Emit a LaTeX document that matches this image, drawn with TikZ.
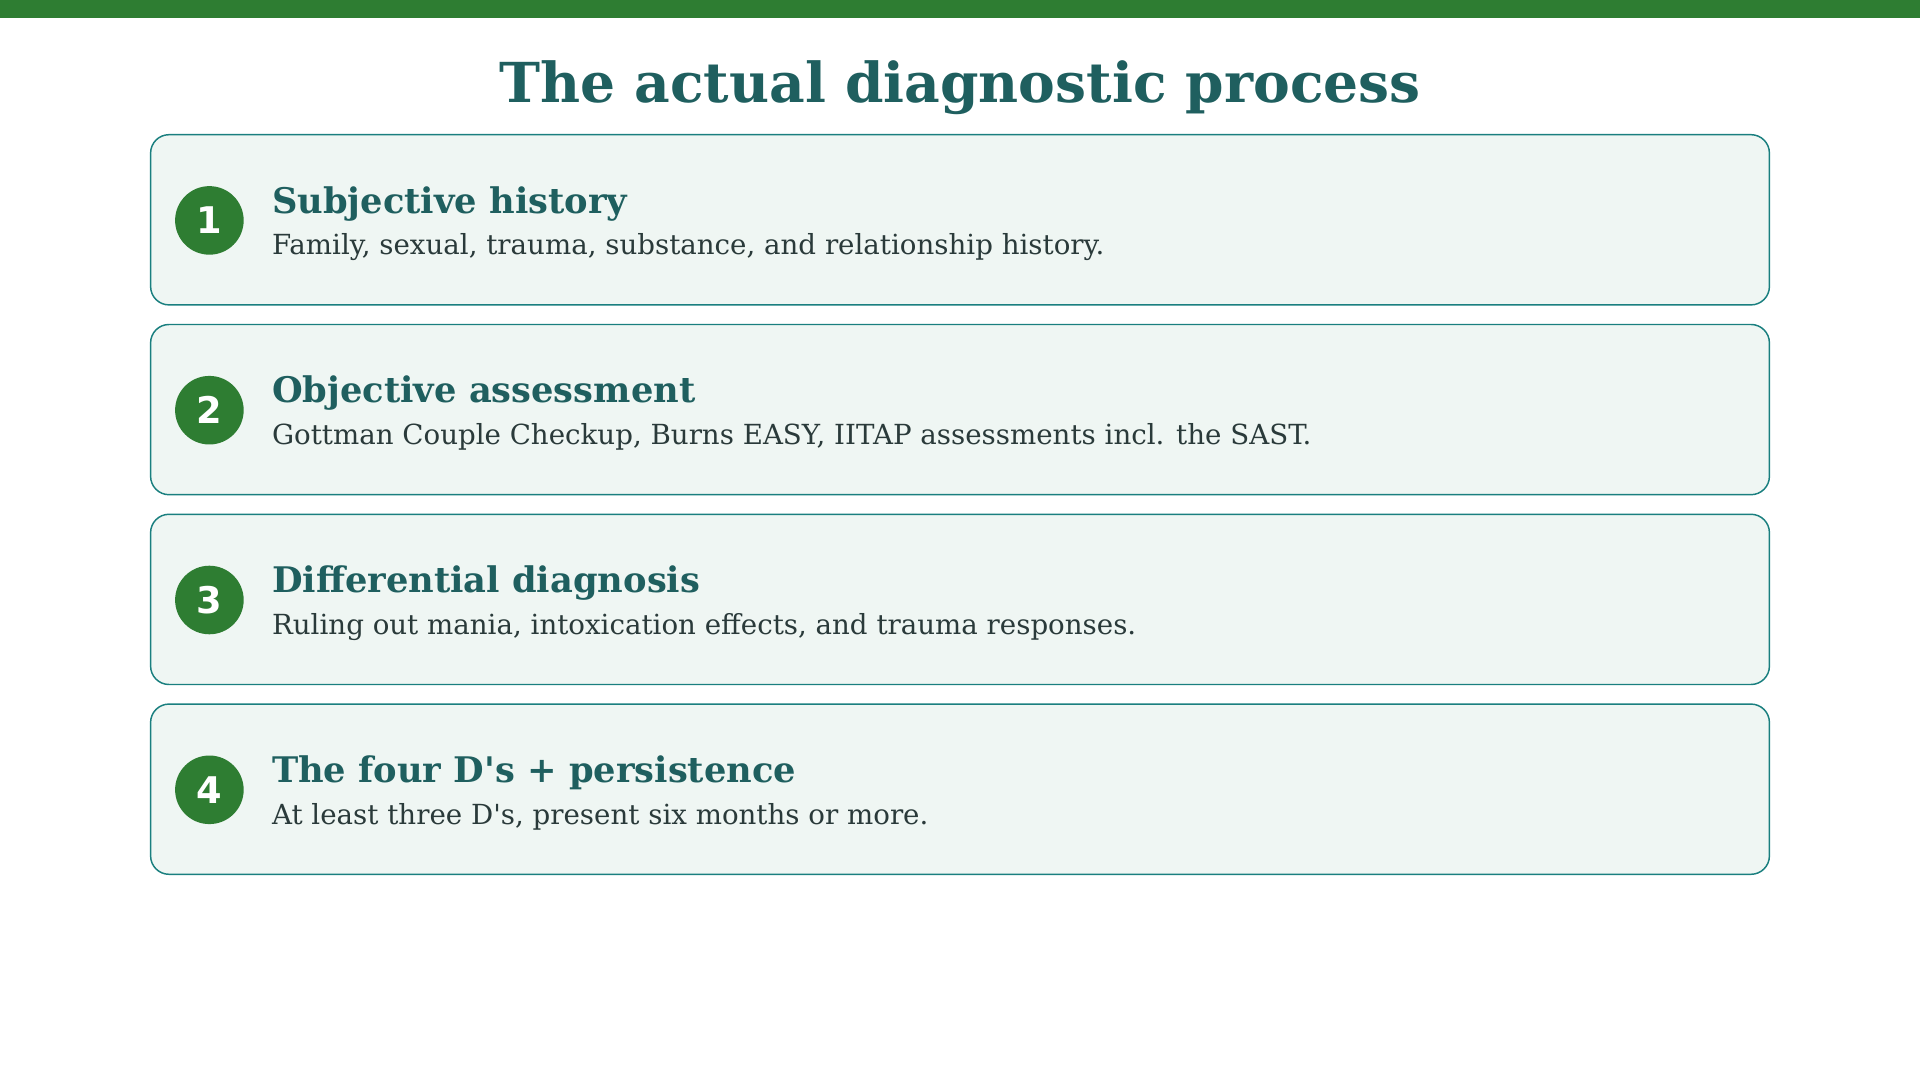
\documentclass[tikz,border=0pt]{standalone}
\usepackage{fontspec}
\setmainfont{DejaVu Serif}
\newfontfamily\numfont{DejaVu Sans}
\definecolor{bar}{HTML}{2E7D32}
\definecolor{ttl}{HTML}{1F5F5F}
\definecolor{bfill}{HTML}{EFF6F3}
\definecolor{bdraw}{HTML}{1A7F7F}
\definecolor{txt}{HTML}{2A3A3A}
\begin{document}
\begin{tikzpicture}[x=1pt,y=-1pt,
  card/.style={draw=bdraw,fill=bfill,line width=1.2pt,rounded corners=15pt},
  num/.style={circle,fill=bar,minimum size=56pt,inner sep=0pt,text=white,font=\numfont\fontsize{30}{30}\selectfont\bfseries},
  head/.style={anchor=base west,inner sep=0pt,text=ttl,font=\fontsize{28.8}{29}\selectfont\bfseries},
  desc/.style={anchor=base west,inner sep=0pt,text=txt,font=\fontsize{22.6}{23}\selectfont}]
\useasboundingbox (0,0) rectangle (1568,882);
\fill[bar] (0,0) rectangle (1568,15);
\node[anchor=base,text=ttl,font=\fontsize{45}{45}\selectfont\bfseries] (title) at (784,84) {The actual diagnostic process};
\foreach \i/\y/\h/\d in {
  1/110/Subjective history/{Family, sexual, trauma, substance, and relationship history.},
  2/265/Objective assessment/{Gottman Couple Checkup, Burns EASY, IITAP assessments incl. the SAST.},
  3/420/Differential diagnosis/{Ruling out mania, intoxication effects, and trauma responses.},
  4/575/{The four D\textquotesingle s + persistence}/{At least three D\textquotesingle s, present six months or more.}}{
  \draw[card] (123,\y) rectangle (1445,\y+139);
  \node[num] (n\i) at (171,\y+70) {\i};
  \node[head] (h\i) at (222,\y+64) {\h};
  \node[desc] (d\i) at (222,\y+98) {\d};
}
\end{tikzpicture}
\end{document}
